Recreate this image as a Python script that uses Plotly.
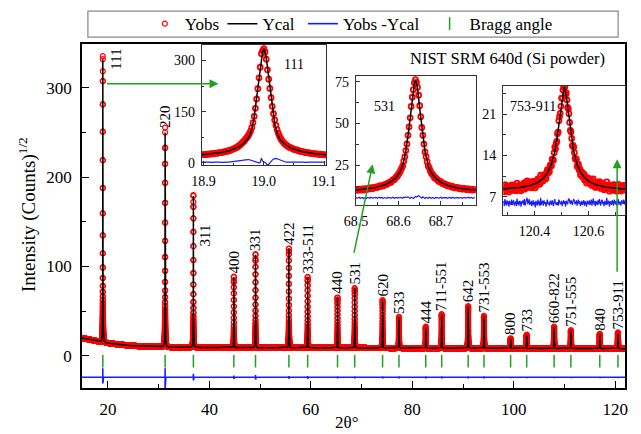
import numpy as np
import plotly.graph_objects as go

# ---------------- data ----------------
peak_pos = [19.00, 31.28, 36.85, 44.82, 49.09, 55.67, 59.37, 65.25, 68.64, 74.13, 77.36,
            82.64, 85.78, 90.99, 94.11, 99.36, 102.53, 107.93, 111.24, 116.93, 120.51]
peak_hkl = ["111", "220", "311", "400", "331", "422", "333-511", "440", "531", "620", "533",
            "444", "711-551", "642", "731-553", "800", "733", "660-822", "751-555", "840", "753-911"]
peak_top = [332, 250, 179, 88, 113, 120, 88, 65, 75.5, 62, 43,
            32, 46, 55, 44, 19, 23, 32, 28, 24, 25.5]
peak_fwhm = [0.018, 0.019, 0.019, 0.020, 0.021, 0.022, 0.023, 0.024, 0.025, 0.026, 0.027,
             0.028, 0.029, 0.031, 0.032, 0.034, 0.035, 0.037, 0.039, 0.041, 0.042]
peak_eta = [0.40, 0.45, 0.47, 0.50, 0.52, 0.55, 0.57, 0.59, 0.60, 0.63, 0.65,
            0.68, 0.70, 0.74, 0.76, 0.80, 0.82, 0.86, 0.88, 0.92, 0.95]
resid_up = [10, 10, 4, 2, 2.5, 1.5, 1.5, 1, 1, 1, 1, 1, 1, 1, 1, 0.8, 0.8, 0.8, 0.8, 0.8, 0.8]
resid_dn = [7, 13, 3.5, 2, 2.5, 1.5, 1.5, 1, 1, 1, 1, 1, 1, 1, 1, 0.8, 0.8, 0.8, 0.8, 0.8, 0.8]

bg_x = [14.9, 17.0, 19.0, 22.0, 25.0, 28.0, 32.0, 40.0, 55.0, 70.0, 90.0, 122.0]
bg_y = [20.0, 17.5, 15.0, 12.8, 11.2, 10.3, 9.7, 9.3, 9.0, 8.8, 8.5, 8.0]

diff_offset_main = -24
bragg_y = -6

# inset residuals (Yobs - Ycal), read/estimated from the insets
inset1_start, inset1_step = 18.898, 0.002
inset1_resid = [0.5, 0, -0.5, 0, 0.5, 0.3, -0.3, 0, 0.4, -0.4, 0, 0.3, 0, -0.3, 0.5,
                0, -0.5, 0, 0.3, 0, -0.3, 0.5, 0, 0.3, 0.6, 0.8, 1.0, 1.3, 1.6, 2.0,
                2.6, 3.3, 4.2, 5.2, 6.2, 7.0, 7.6, 8.0, 7.8, 7.2,
                6.0, 4.5, 3.0, 1.5, 0.2, -1.0, -1.8, -2.0, -1.5, 12,
                3, 2, -1, -4, -9, -6, -1, 3, 6, 9,
                11, 11, 10, 8.5, 6.5, 4.5, 3, 2, 1.2, 0.6,
                0.3, 0, -0.3, 0, 0.4, 0, -0.4, 0, 0.3, 0.5, 0, -0.3, 0, 0.4, 0, -0.5, 0,
                0.3, 0, -0.3, 0.4, 0, 0, -0.4, 0, 0.3, 0, -0.3, 0.5, 0, 0, -0.3, 0]
inset1_offset = 2

inset2_start, inset2_step = 68.500, 0.0025
inset2_resid = [0.2, -0.3, 0.1, 0.4, -0.2, 0.0, 0.3, -0.4, 0.2, 0.1, -0.3, 0.3, 0.0, -0.2, 0.4, 0.1, -0.3, 0.2, 0.0, 0.3,
                -0.2, 0.1, 0.4, -0.1, 0.3, 0.0, -0.3, 0.2, 0.1, -0.2, 0.3, 0.0, 0.2, -0.3, 0.1, 0.4, -0.2, 0.0, 0.3, -0.1,
                0.2, 0.0, 0.3, 0.1, -0.2, 0.4, 0.2, 0.5, 0.3, 0.6, 0.2, -0.3, 0.4, 0.1, -0.4, 0.2, 0.8, 0.5, 1.0, 1.3,
                0.9, 0.4, -0.2, 0.6, 0.2, -0.3, 0.3, 0.1, -0.2, 0.4, 0.0, -0.3, 0.2, 0.1, -0.4, 0.3, 0.0, 0.2, -0.3, 0.1,
                0.4, -0.2, 0.0, 0.3, -0.1, 0.2, -0.3, 0.1, 0.3, 0.0, -0.2, 0.4, 0.1, -0.3, 0.2, 0.0, 0.3, -0.2, 0.1, 0.2,
                -0.3, 0.1, 0.3, 0.0, -0.2, 0.2, 0.4, -0.1, 0.0, 0.3, -0.2, 0.1, 0.2]
inset2_offset = 5.5

inset3_start, inset3_step = 120.285, 0.0025
inset3_resid = [0.4, -0.5, 0.7, 0.1, -0.4, 0.5, -0.2, 0.3, -0.6, 0.4, 0.0, -0.3, 0.6, -0.3, 0.2, 0.5, -0.4, 0.1, 0.3, -0.5,
                0.8, -0.2, 0.3, -0.4, 0.4, 0.2, -0.6, 0.3, 0.0, 0.5, -0.3, 0.7, -0.4, 0.2, 0.6, 0.9, -0.2, 0.3, 0.7, -0.3,
                0.3, 0.4, -0.5, 0.1, 0.5, -0.3, 0.2, -0.7, 0.4, 0.0, -0.4, 0.6, -0.2, 0.3, -0.5, 0.9, -0.3, 0.2, 0.4, -0.4,
                0.5, -0.1, 0.2, -0.6, 0.3, 0.6, -0.2, 0.1, -0.4, 0.4, 0.2, -0.3, 0.5, 0.0, -0.5, 0.3, 0.7, -0.2, 0.1, -0.3,
                0.2, -0.4, 0.6, 0.3, -0.2, 0.0, 0.4, -0.5, 0.2, 0.5, -0.1, 0.3, -0.6, 0.4, 0.1, -0.2, 0.6, 0.8, 0.3, -0.1,
                0.5, 0.2, -0.3, 0.4, 0.7, 0.3, -0.2, 0.1, 0.5, -0.4, 0.2, 0.6, -0.1, 0.3, -0.5, 0.2, 0.4, -0.3, 0.1, 0.5,
                -0.4, 0.3, 0.0, -0.6, 0.4, 0.2, -0.2, 0.5, -0.3, 0.1, 0.6, -0.4, 0.2, 0.8, -0.2, 0.3, -0.5, 0.4, 0.0, -0.3,
                0.5, -0.2, 0.7, 0.1, -0.4, 0.3, 0.6, -0.1, 0.2, -0.5, 0.4, 0.0, -0.3, 0.9, -0.2, 0.1, 0.4, -0.6, 0.3, 0.2,
                -0.3, 0.5, 0.1, -0.4, 0.6, 0.0, -0.2, 0.4, -0.5, 0.3, 0.7, -0.3, 0.2, 0.1, -0.4, 0.5, 0.3, -0.1, 0.6, -0.2,
                0.4]
inset3_offset = 5.9

# ---------------- profile model (Ycal) built from the peak table ----------------
def bg(x):
    return np.interp(x, bg_x, bg_y)

def ycal(x):
    x = np.asarray(x, dtype=float)
    tot = bg(x) ** 2
    for p, h, fw, eta in zip(peak_pos, peak_top, peak_fwhm, peak_eta):
        d = (x - p) / fw
        pv = eta / (1 + 4 * d * d) + (1 - eta) * np.exp(-4 * np.log(2) * d * d)
        tot = tot + (h ** 2 - bg(p) ** 2) * pv
    return np.sqrt(tot)

coarse = np.arange(14.9, 121.95, 0.02)
fine = [np.arange(p - 0.3, p + 0.3001, 0.002) for p in peak_pos]
x_main = np.unique(np.round(np.concatenate([coarse] + fine + [np.array(peak_pos)]), 4))
ycal_main = ycal(x_main)
res_main = np.zeros_like(x_main)
for p, u, d in zip(peak_pos, resid_up, resid_dn):
    res_main[np.argmin(np.abs(x_main - (p - 0.002)))] += u
    res_main[np.argmin(np.abs(x_main - (p + 0.002)))] -= d
yobs_main = ycal_main + res_main
diff_main = res_main + diff_offset_main

def inset_data(start, step, resid, offset, lo, hi):
    r = np.array(resid, dtype=float)
    xo = start + step * np.arange(len(r))
    xc = np.linspace(lo, hi, 500)
    return xo, ycal(xo) + r, xc, ycal(xc), r + offset

in1 = inset_data(inset1_start, inset1_step, inset1_resid, inset1_offset, 18.897, 19.104)
in2 = inset_data(inset2_start, inset2_step, inset2_resid, inset2_offset, 68.5, 68.782)
in3 = inset_data(inset3_start, inset3_step, inset3_resid, inset3_offset, 120.284, 120.735)

# ---------------- figure ----------------
FONT = "Liberation Serif, Times New Roman, serif"
RED, BLUE, GREEN = "#ff0000", "#1a1aff", "#22a022"

fig = go.Figure()
fig.add_trace(go.Scatter(x=x_main, y=yobs_main, mode="markers", name="Yobs", legend="legend",
                         marker=dict(symbol="circle-open", size=5, color=RED,
                                     line=dict(width=1.2, color=RED))))
fig.add_trace(go.Scatter(x=x_main, y=ycal_main, mode="lines", name="Ycal", legend="legend2",
                         line=dict(color="black", width=1.5)))
fig.add_trace(go.Scatter(x=x_main, y=diff_main, mode="lines", name="Yobs -Ycal", legend="legend3",
                         line=dict(color=BLUE, width=1.6)))
fig.add_trace(go.Scatter(x=peak_pos, y=[bragg_y] * len(peak_pos), mode="markers",
                         name="Bragg angle", legend="legend4",
                         marker=dict(symbol="line-ns", size=9, color=GREEN,
                                     line=dict(width=1.5, color=GREEN))))

for k, d in zip([2, 3, 4], [in1, in2, in3]):
    xo, yo, xc, yc, df = d
    xa, ya = f"x{k}", f"y{k}"
    fig.add_trace(go.Scatter(x=xo, y=yo, mode="markers", showlegend=False, xaxis=xa, yaxis=ya,
                             marker=dict(symbol="circle-open", size=5, color=RED,
                                         line=dict(width=1.8, color=RED))))
    fig.add_trace(go.Scatter(x=xc, y=yc, mode="lines", showlegend=False, xaxis=xa, yaxis=ya,
                             line=dict(color="black", width=1.5)))
    fig.add_trace(go.Scatter(x=xo, y=df, mode="lines", showlegend=False, xaxis=xa, yaxis=ya,
                             line=dict(color=BLUE, width=1.2)))

W, H = 641, 434
ML, MR, MT, MB = 82, 6, 42, 46
PW, PH = W - ML - MR, H - MT - MB

def px(xp):
    return (xp - ML) / PW

def py(yp):
    return (H - MB - yp) / PH

main_ax = dict(showline=True, mirror=True, linecolor="black", linewidth=1.5, showgrid=False,
               zeroline=False, ticks="inside", ticklen=7, tickwidth=1.3, tickcolor="black",
               tickfont=dict(family=FONT, size=17, color="black"), ticklabelstandoff=5)
inset_ax = dict(showline=True, mirror=True, linecolor="#333333", linewidth=1.2, showgrid=False,
                zeroline=False, ticks="inside", ticklen=4, tickwidth=1, tickcolor="#333333",
                tickfont=dict(family=FONT, size=14, color="black"), ticklabelstandoff=3)

def leg(xp):
    return dict(x=px(xp), xanchor="left", y=py(22), yanchor="middle", bgcolor="rgba(0,0,0,0)",
                borderwidth=0, font=dict(family=FONT, size=17, color="black"))

fig.update_layout(
    width=W, height=H, margin=dict(l=ML, r=MR, t=MT, b=MB),
    paper_bgcolor="white", plot_bgcolor="white",
    font=dict(family=FONT, color="black"),
    xaxis=dict(main_ax, range=[14.9, 121.9], tick0=0, dtick=20,
               minor=dict(dtick=10, ticks="inside", ticklen=4, tickcolor="black")),
    yaxis=dict(main_ax, range=[-36, 349], tick0=0, dtick=100,
               minor=dict(dtick=50, ticks="inside", ticklen=4, tickcolor="black")),
    xaxis2=dict(inset_ax, domain=[px(204), px(331)], anchor="y2", range=[18.897, 19.104],
                tick0=0, dtick=0.1, tickformat=".1f",
                minor=dict(dtick=0.05, ticks="inside", ticklen=2.5)),
    yaxis2=dict(inset_ax, domain=[py(164), py(43)], anchor="x2", range=[-7, 345],
                tick0=0, dtick=150, minor=dict(dtick=75, ticks="inside", ticklen=2.5)),
    xaxis3=dict(inset_ax, domain=[px(361), px(483)], anchor="y3", range=[68.5, 68.782],
                tick0=0, dtick=0.1, tickformat=".1f",
                minor=dict(dtick=0.05, ticks="inside", ticklen=2.5)),
    yaxis3=dict(inset_ax, domain=[py(204), py(74)], anchor="x3", range=[1.2, 78.6],
                tick0=0, dtick=25, minor=dict(dtick=12.5, ticks="inside", ticklen=2.5)),
    xaxis4=dict(inset_ax, domain=[px(511), 1.0], anchor="y4", range=[120.284, 120.735],
                tick0=0, dtick=0.2, tickformat=".1f",
                minor=dict(dtick=0.1, ticks="inside", ticklen=2.5)),
    yaxis4=dict(inset_ax, domain=[py(214), py(84)], anchor="x4", range=[3.9, 25.8],
                tick0=0, dtick=7, minor=dict(dtick=3.5, ticks="inside", ticklen=2.5)),
    legend=leg(146), legend2=leg(225), legend3=leg(307), legend4=leg(436),
    showlegend=True,
)

# legend frame
fig.add_shape(type="rect", xref="paper", yref="paper", x0=px(88), x1=px(628), y0=py(35), y1=py(9),
              line=dict(color="#888888", width=1.2), fillcolor="rgba(0,0,0,0)")

ann = []
# peak labels
special = {"111": (21.7, 332, "middle"), "311": (39.2, 135, "middle")}
for p, h, lab in zip(peak_pos, peak_top, peak_hkl):
    if lab in special:
        xx, yy, ya = special[lab]
        ann.append(dict(x=xx, y=yy, xref="x", yref="y", text=lab, showarrow=False, textangle=-90,
                        xanchor="center", yanchor=ya, font=dict(family=FONT, size=15)))
    else:
        ann.append(dict(x=p, y=h, xref="x", yref="y", text=lab, showarrow=False, textangle=-90,
                        xanchor="center", yanchor="bottom", yshift=2, font=dict(family=FONT, size=15)))

# inset labels and title text
def ptext(x, y, text, size, xanchor="center", angle=0):
    return dict(x=px(x), y=py(y), xref="paper", yref="paper", text=text, showarrow=False,
                xanchor=xanchor, yanchor="middle", textangle=angle,
                font=dict(family=FONT, size=size, color="black"))

ann += [
    ptext(298, 63, "111", 14),
    ptext(390, 105, "531", 14),
    ptext(516, 105, "753-911", 14, xanchor="left"),
    ptext(515, 57, "NIST SRM 640d (Si powder)", 16.5),
    ptext(26, 214, "Intensity (Counts)<sup>1/2</sup>", 19, angle=-90),
    ptext(351, 423, "2θ°", 17),
]
# green arrows
for (hx, hy), (tx, ty) in [((221, 82), (108, 82)), ((378, 163), (359, 253)), ((627, 158), (627, 272))]:
    ann.append(dict(x=px(hx), y=py(hy), xref="paper", yref="paper", text="", showarrow=True,
                    ax=tx - hx, ay=ty - hy, arrowhead=2, arrowsize=1.2, arrowwidth=1.5,
                    arrowcolor=GREEN, standoff=0, startstandoff=0))
fig.update_layout(annotations=ann)

fig.write_html("out.html")
